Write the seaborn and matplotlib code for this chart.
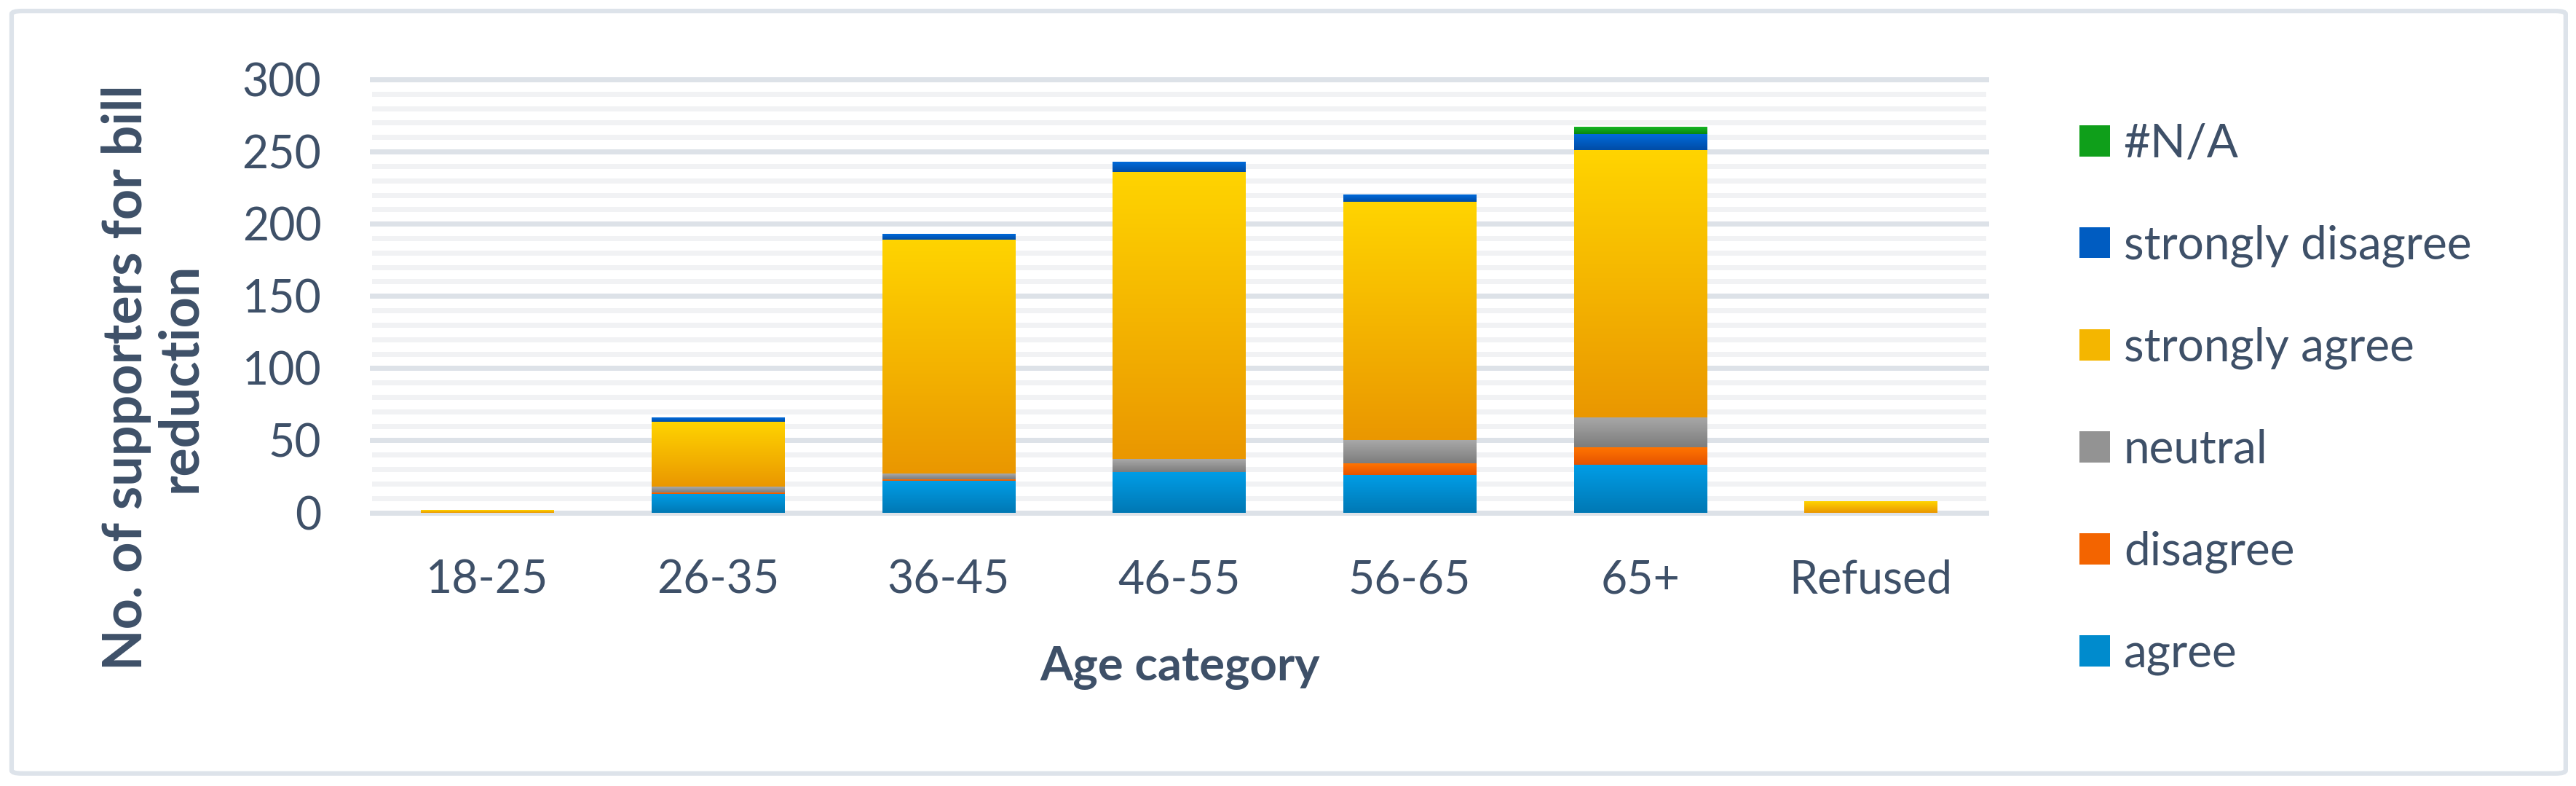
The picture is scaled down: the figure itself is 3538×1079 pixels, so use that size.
import numpy as np
import pandas as pd
import matplotlib
matplotlib.use("Agg")
import matplotlib.pyplot as plt
import seaborn as sns
from matplotlib.colors import LinearSegmentedColormap, to_rgb
from matplotlib.patches import Patch, FancyBboxPatch
from matplotlib.ticker import MultipleLocator

# data
age_groups = ['18-25', '26-35', '36-45', '46-55', '56-65', '65+', 'Refused']
agree = [0, 13, 22, 28, 26, 33, 0]
disagree = [0, 1, 1, 0, 8, 12, 0]
neutral = [0, 4, 4, 9, 16, 21, 0]
strongly_agree = [2, 45, 162, 199, 165, 185, 8]
strongly_disagree = [0, 3, 4, 7, 5, 11, 0]
not_available = [0, 0, 0, 0, 0, 5, 0]

responses = ['#N/A', 'strongly disagree', 'strongly agree', 'neutral', 'disagree', 'agree']
series = {'#N/A': not_available, 'strongly disagree': strongly_disagree,
          'strongly agree': strongly_agree, 'neutral': neutral,
          'disagree': disagree, 'agree': agree}

# (top, bottom) of each gradient fill
grads = {'#N/A': ('#16B625', '#08870F'),
         'strongly disagree': ('#006BDB', '#004CA6'),
         'strongly agree': ('#FFD400', '#EA9700'),
         'neutral': ('#A8A8A8', '#7D7D7D'),
         'disagree': ('#FF7400', '#E65300'),
         'agree': ('#009DE6', '#0078B4')}
palette = {k: tuple((np.array(to_rgb(a)) + np.array(to_rgb(b))) / 2) for k, (a, b) in grads.items()}

rows = []
for r in responses:
    for g, v in zip(age_groups, series[r]):
        rows.append((g, r, v))
df = pd.DataFrame(rows, columns=['age', 'response', 'count'])
df['age'] = pd.Categorical(df['age'], categories=age_groups, ordered=True)

txt = '#3E5068'
plt.rcParams['font.family'] = ['Lato', 'DejaVu Sans']

fig = plt.figure(figsize=(35.38, 10.79), dpi=100)
ax = fig.add_axes([0.1444, 0.3480, 0.6266, 0.5510])

sns.histplot(data=df, x='age', weights='count', hue='response', hue_order=responses,
             multiple='stack', discrete=True, shrink=0.575, palette=palette,
             alpha=1, linewidth=0, legend=False, ax=ax)

# per-segment vertical gradient like the original
lut = {tuple(np.round(v, 3)): k for k, v in palette.items()}
grad = np.linspace(0, 1, 256).reshape(-1, 1)
for p in list(ax.patches):
    if p.get_height() <= 0:
        continue
    key = lut.get(tuple(np.round(p.get_facecolor()[:3], 3)))
    if key is None:
        continue
    top, bot = grads[key]
    cmap = LinearSegmentedColormap.from_list(key, [bot, top])
    x0, y0 = p.get_x(), p.get_y()
    ax.imshow(grad, cmap=cmap, origin='lower', aspect='auto', zorder=3,
              extent=[x0, x0 + p.get_width(), y0, y0 + p.get_height()])

ax.set_xlim(-0.5, 6.5)
ax.set_ylim(0, 300)
ax.set_yticks(range(0, 301, 50))
ax.yaxis.set_minor_locator(MultipleLocator(10))
ax.set_axisbelow(True)
ax.grid(False)
ax.grid(axis='y', which='minor', color='#F1F2F4', lw=5)
ax.grid(axis='y', which='major', color='#DDE2E8', lw=5)
for gl in ax.get_ygridlines() + ax.yaxis.get_minorticklines():
    gl.set_clip_on(False)
for s in ax.spines.values():
    s.set_visible(False)

ax.tick_params(axis='both', which='both', length=0, labelsize=45, colors=txt)
ax.tick_params(axis='y', pad=50)
ax.tick_params(axis='x', pad=46)
ax.set_xlabel('')
ax.set_ylabel('')

fig.text(0.458, 0.150, 'Age category', ha='center', va='center',
         fontsize=47, fontweight='bold', color=txt)
fig.text(0.0595, 0.52, 'No. of supporters for bill\nreduction', rotation=90,
         ha='center', va='center', multialignment='center', linespacing=1.08,
         fontsize=53, fontweight='bold', color=txt)

handles = [Patch(facecolor=palette[r], edgecolor='none') for r in responses]
fig.legend(handles, responses, loc='upper left', bbox_to_anchor=(0.791, 0.897),
           frameon=False, fontsize=46, labelcolor=txt, handlelength=0.65,
           handleheight=0.65, handletextpad=0.3, labelspacing=1.28)

frame = FancyBboxPatch((0.0045, 0.016), 0.9915, 0.970, boxstyle='round,pad=0,rounding_size=0.004',
                       transform=fig.transFigure, facecolor='none', edgecolor='#DDE3EA', lw=4.5)
fig.patches.append(frame)

fig.savefig('out.png', dpi=100, facecolor='white')
